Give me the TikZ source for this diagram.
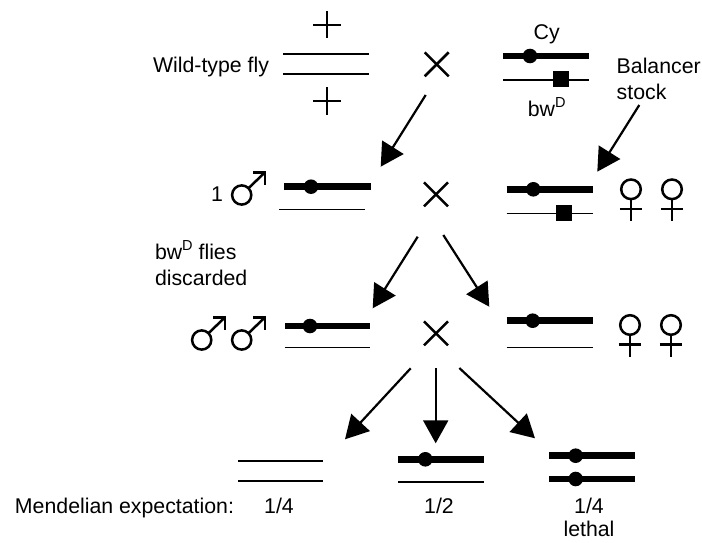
\documentclass[tikz,border=0pt]{standalone}
\usepackage{fontspec}
\setmainfont{Liberation Sans}
\usetikzlibrary{arrows.meta}
\newcommand{\supD}{\raisebox{9pt}{\fontsize{14.5}{15}\selectfont D}}
\tikzset{
  txt/.style={inner sep=0pt, outer sep=0pt, font=\fontsize{21.3}{25}\selectfont},
  thinchr/.style={line width=1.6pt},
  thickchr/.style={line width=6.5pt},
  sym/.style={line width=2.5pt},
  bigarrow/.style={line width=2.2pt, -{Triangle[length=23pt,width=25pt]}},
  pics/male/.style={code={
    \draw[sym] (0,0) circle[radius=9.6pt];
    \draw[sym] (6.8,-6.8) -- (22.6,-22);
    \draw[sym] (11.5,-22.7) -- (23.3,-22.7) -- (23.3,-10.5);
  }},
  pics/female/.style={code={
    \draw[sym] (0,0) circle[radius=9.8pt];
    \draw[sym] (0,9.8) -- (0,31.5);
    \draw[sym] (-11.2,19.5) -- (11.2,19.5);
  }},
  pics/plussign/.style={code={
    \draw[sym] (-14,0) -- (14,0);
    \draw[sym] (0,-13.5) -- (0,13.5);
  }},
  pics/crosssign/.style={code={
    \draw[sym] (-12,-12) -- (12,12);
    \draw[sym] (-12,12) -- (12,-12);
  }},
  pics/centro/.style={code={\fill (0,0) circle[radius=7.3pt];}},
}
\begin{document}
\begin{tikzpicture}[x=1pt,y=-1pt]
\useasboundingbox (0,0) rectangle (702,543);

% ---------- Row 0 ----------
\node[txt, anchor=base] (wt) at (211,72.7) {Wild-type fly};
\pic at (327,25) {plussign};
\pic at (327,101) {plussign};
\draw[thinchr] (283.3,54.3) -- (369.3,54.3);
\draw[thinchr] (283.3,74) -- (369.3,74);
\pic at (436.7,64.3) {crosssign};

\node[txt, anchor=base] (cy) at (546.7,39.3) {Cy};
\draw[thickchr] (503.3,56) -- (589.3,56);
\pic at (530,56) {centro};
\draw[thinchr] (503.3,80) -- (589.3,80);
\fill (553,71) rectangle (569,87);
\node[txt, anchor=base] (bwd) at (546.7,116.7) {bw\supD};
\node[txt, anchor=base west] (bal) at (616.7,74) {Balancer};
\node[txt, anchor=base west] (stock) at (616.7,99.3) {stock};

% ---------- Row 1 ----------
\node[txt, anchor=base] (one) at (217,201.7) {1};
\pic at (241.7,195) {male};
\draw[thickchr] (284,186.7) -- (370.7,186.7);
\pic at (311,186.7) {centro};
\draw[thinchr] (279.3,209.3) -- (365,209.3);
\pic at (436,194.3) {crosssign};
\draw[thickchr] (506.7,189.3) -- (592.7,189.3);
\pic at (533.3,189.3) {centro};
\draw[thinchr] (506.7,213.3) -- (592.7,213.3);
\fill (556.2,205.2) rectangle (571.8,220.8);
\pic at (631,189.3) {female};
\pic at (672,189.3) {female};

% ---------- Row 2 ----------
\node[txt, anchor=base west] (bwf) at (155,259.3) {bw\supD\ flies};
\node[txt, anchor=base west] (disc) at (155,285) {discarded};
\pic at (201.7,340) {male};
\pic at (241.7,340) {male};
\draw[thickchr] (285,326) -- (370,326);
\pic at (310,326) {centro};
\draw[thinchr] (285,347.3) -- (370,347.3);
\pic at (436,333.3) {crosssign};
\draw[thickchr] (506.7,320.7) -- (592.7,320.7);
\pic at (532.7,320.7) {centro};
\draw[thinchr] (506.7,347.3) -- (592.7,347.3);
\pic at (630,325) {female};
\pic at (671,325) {female};

% ---------- Row 3 ----------
\draw[thinchr] (238.3,460.7) -- (323.3,460.7);
\draw[thinchr] (238.3,480.7) -- (323.3,480.7);
\draw[thickchr] (398.3,459.3) -- (484,459.3);
\pic at (425.3,459.3) {centro};
\draw[thinchr] (398.3,481.7) -- (484,481.7);
\draw[thickchr] (549,455.7) -- (635,455.7);
\pic at (575.7,455.7) {centro};
\draw[thickchr] (549,479) -- (635,479);
\pic at (575.7,479) {centro};

\node[txt, anchor=base west] (mend) at (15,513.3) {Mendelian expectation:};
\node[txt, anchor=base] (q1) at (279,513.3) {1/4};
\node[txt, anchor=base] (h) at (439,513.3) {1/2};
\node[txt, anchor=base] (q2) at (589,513.3) {1/4};
\node[txt, anchor=base] (leth) at (589,536.7) {lethal};

% ---------- Arrows ----------
\coordinate (a1s) at (425.7,95);   \coordinate (a1e) at (380.7,166.7);
\coordinate (a2s) at (639.3,105);  \coordinate (a2e) at (597.3,171.7);
\coordinate (a3s) at (417.7,236.7);\coordinate (a3e) at (372.7,308.3);
\coordinate (a4s) at (443.3,235);  \coordinate (a4e) at (489.3,306.7);
\coordinate (a5s) at (410.7,368.3);\coordinate (a5e) at (345,439.3);
\coordinate (a6s) at (435.7,368);  \coordinate (a6e) at (435.7,443.3);
\coordinate (a7s) at (459.3,368);  \coordinate (a7e) at (535,438.3);
\draw[bigarrow] (a1s) -- (a1e);
\draw[bigarrow] (a2s) -- (a2e);
\draw[bigarrow] (a3s) -- (a3e);
\draw[bigarrow] (a4s) -- (a4e);
\draw[bigarrow] (a5s) -- (a5e);
\draw[bigarrow] (a6s) -- (a6e);
\draw[bigarrow] (a7s) -- (a7e);
\end{tikzpicture}
\end{document}
